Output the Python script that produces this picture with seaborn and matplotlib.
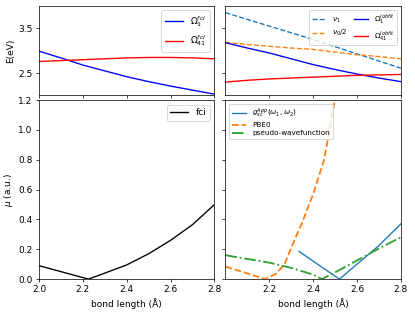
import matplotlib
matplotlib.use("Agg")
import matplotlib.pyplot as plt
import seaborn as sns

# bond length grid (Å) for the excitation energies
bond = [2.0, 2.1, 2.2, 2.3, 2.4, 2.5, 2.6, 2.7, 2.8]

# top left: fci excitation energies (eV)
omega1_fci = [2.99, 2.84, 2.68, 2.55, 2.42, 2.31, 2.21, 2.12, 2.03]
omega41_fci = [2.76, 2.78, 2.80, 2.82, 2.84, 2.85, 2.85, 2.84, 2.82]

# top right: frequencies and lobfit energies (eV)
nu1 = [3.85, 3.70, 3.55, 3.40, 3.25, 3.09, 2.93, 2.77, 2.61]
nu0_half = [3.19, 3.14, 3.10, 3.06, 3.03, 2.97, 2.91, 2.87, 2.82]
omega1_lob = [3.18, 3.06, 2.95, 2.82, 2.69, 2.58, 2.48, 2.39, 2.31]
omega41_lob = [2.30, 2.34, 2.37, 2.39, 2.41, 2.43, 2.45, 2.46, 2.47]

# bottom left: fci dipole
bond_fci = [2.0, 2.1, 2.225, 2.3, 2.4, 2.5, 2.6, 2.7, 2.8]
mu_fci = [0.09, 0.05, 0.0, 0.04, 0.095, 0.17, 0.26, 0.365, 0.50]

# bottom right: approximations
bond_g = [2.336, 2.4, 2.45, 2.52, 2.6, 2.7, 2.8]
mu_g = [0.185, 0.12, 0.07, 0.0, 0.10, 0.225, 0.37]
bond_pbe0 = [2.0, 2.09, 2.18, 2.23, 2.27, 2.3, 2.35, 2.4, 2.45, 2.5]
mu_pbe0 = [0.083, 0.043, 0.0, 0.035, 0.10, 0.21, 0.38, 0.57, 0.80, 1.21]
bond_pw = [2.0, 2.1, 2.2, 2.3, 2.4, 2.44, 2.5, 2.6, 2.7, 2.8]
mu_pw = [0.16, 0.135, 0.11, 0.075, 0.03, 0.0, 0.045, 0.125, 0.205, 0.28]

fig, axes = plt.subplots(
    2, 2, figsize=(415 / 65, 315 / 65), sharex="col", sharey="row",
    gridspec_kw={"height_ratios": [1, 2]},
)
fig.subplots_adjust(left=0.094, right=0.966, top=0.981, bottom=0.114, wspace=0.0625, hspace=0.034)
ax_tl, ax_tr = axes[0]
ax_bl, ax_br = axes[1]

sns.lineplot(x=bond, y=omega1_fci, ax=ax_tl, color="blue", label=r"$\Omega_1^{fci}$")
sns.lineplot(x=bond, y=omega41_fci, ax=ax_tl, color="red", label=r"$\Omega_{41}^{fci}$")
ax_tl.legend(loc="upper right")
ax_tl.set_ylabel("E(eV)")
ax_tl.set_ylim(2.0, 4.0)
ax_tl.set_yticks([2.5, 3.5])

sns.lineplot(x=bond, y=nu1, ax=ax_tr, color="tab:blue", linestyle="--", label=r"$\nu_1$")
sns.lineplot(x=bond, y=nu0_half, ax=ax_tr, color="tab:orange", linestyle="--", label=r"$\nu_0/2$")
sns.lineplot(x=bond, y=omega1_lob, ax=ax_tr, color="blue", label=r"$\Omega_1^{lobfit}$")
sns.lineplot(x=bond, y=omega41_lob, ax=ax_tr, color="red", label=r"$\Omega_{41}^{lobfit}$")
ax_tr.legend(loc="upper right", ncol=2, fontsize=8, columnspacing=0.8)

sns.lineplot(x=bond_fci, y=mu_fci, ax=ax_bl, color="black", label="fci")
ax_bl.legend(loc="upper right")
ax_bl.set_ylim(0, 1.2)
ax_bl.set_ylabel(r"$\mu$ (a.u.)")
ax_bl.set_xlabel("bond length (Å)")
ax_bl.set_xlim(2.0, 2.8)
ax_bl.set_xticks([2.0, 2.2, 2.4, 2.6, 2.8])

sns.lineplot(x=bond_g, y=mu_g, ax=ax_br, color="tab:blue", label=r"$g_{sc}^{App}(\omega_1,\omega_2)$")
sns.lineplot(x=bond_pbe0, y=mu_pbe0, ax=ax_br, color="tab:orange", linestyle="--", linewidth=2, label="PBE0")
sns.lineplot(x=bond_pw, y=mu_pw, ax=ax_br, color="tab:green", linestyle="-.", linewidth=2, label="pseudo-wavefunction")
ax_br.legend(loc="upper left", fontsize=8, labelspacing=0.3)
ax_br.set_xlabel("bond length (Å)")
ax_br.set_xlim(2.0, 2.8)
ax_br.set_xticks([2.2, 2.4, 2.6, 2.8])

fig.savefig("out.png", dpi=65)
